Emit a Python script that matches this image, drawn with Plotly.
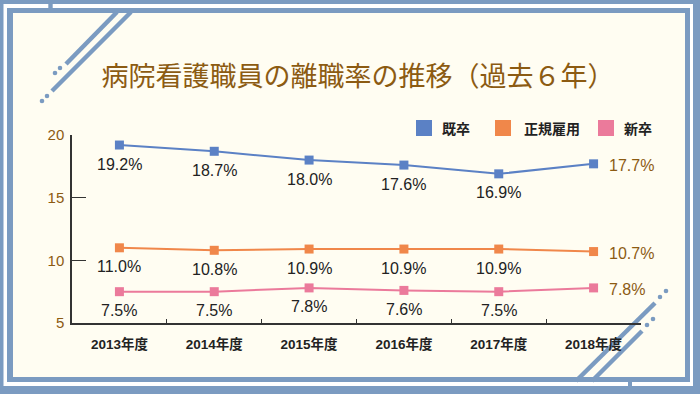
import plotly.graph_objects as go

# ---- data ----
years = ["2013年度", "2014年度", "2015年度", "2016年度", "2017年度", "2018年度"]
kisotsu = [19.2, 18.7, 18.0, 17.6, 16.9, 17.7]      # 既卒
seiki = [11.0, 10.8, 10.9, 10.9, 10.9, 10.7]        # 正規雇用
shinsotsu = [7.5, 7.5, 7.8, 7.6, 7.5, 7.8]          # 新卒
series_names = ["既卒", "正規雇用", "新卒"]
title_text = "病院看護職員の離職率の推移（過去６年）"

# ---- style ----
W, H = 700, 394
L, R, T, B = 72, 641, 135, 323  # plot area in pixels
BLUE_FRAME = "#7b9bc1"
CREAM = "#fffdf2"
GOLD = "#8c5b12"
COLORS = ["#5b81c5", "#f0874a", "#eb7a9b"]
TEXT_DARK = "#222222"
LABEL_FONT = "Liberation Sans, Arial, sans-serif"


def px(x):
    return (x - L) / (R - L)


def py(y):
    return (B - y) / (B - T)


fig = go.Figure()
annotations = []

n = len(years)
for name, vals, col in zip(series_names, [kisotsu, seiki, shinsotsu], COLORS):
    fig.add_trace(go.Scatter(
        x=years, y=vals, mode="lines+markers", name=name,
        line=dict(color=col, width=2),
        marker=dict(symbol="square", size=9, color=col),
        showlegend=False,
        hoverinfo="skip",
    ))
    for i, (xc, v) in enumerate(zip(years, vals)):
        last = i == n - 1
        annotations.append(dict(
            x=xc, y=v, xref="x", yref="y", text=f"{v:.1f}%", showarrow=False,
            xanchor="left" if last else "center", yanchor="middle",
            xshift=13 if last else 0, yshift=-2 if last else -19,
            font=dict(family=LABEL_FONT, size=16, color=GOLD if last else TEXT_DARK),
        ))

shapes = []


def rect(x0, y0, x1, y1, color):
    shapes.append(dict(type="rect", xref="paper", yref="paper",
                       x0=px(x0), x1=px(x1), y0=py(y1), y1=py(y0),
                       fillcolor=color, line=dict(width=0), layer="below"))


def seg(x0, y0, x1, y1):
    shapes.append(dict(type="line", xref="paper", yref="paper",
                       x0=px(x0), y0=py(y0), x1=px(x1), y1=py(y1),
                       line=dict(color=BLUE_FRAME, width=4.5), layer="below"))


def dot(cx, cy, r=2.3):
    shapes.append(dict(type="circle", xref="paper", yref="paper",
                       x0=px(cx - r), x1=px(cx + r), y0=py(cy + r), y1=py(cy - r),
                       fillcolor=BLUE_FRAME, line=dict(width=0), layer="below"))


# frame
rect(3.5, 4, 693, 386, "#ffffff")
rect(7, 8, 690, 382, BLUE_FRAME)
rect(13, 13, 685, 377, CREAM)
rect(48.3, 0, 52.7, 9, BLUE_FRAME)
rect(628, 381, 632, 394, BLUE_FRAME)

# decorative slashes top-left
seg(117, 12, 66, 64)
seg(131, 12, 52, 91)
dot(60, 68)
dot(55, 73)
dot(47, 96)
dot(42, 101)
# decorative slashes bottom-right
seg(576, 381, 655, 303)
seg(592, 381, 642, 331)
dot(660, 297)
dot(666, 291)
dot(647, 325)
dot(653, 319)

# legend (square swatches + bold labels)
legend_sq_x = [416, 495, 598]
legend_tx_x = [440, 522, 622]
for name, col, sx, tx in zip(series_names, COLORS, legend_sq_x, legend_tx_x):
    rect(sx, 120, sx + 16, 136, col)
    annotations.append(dict(
        x=px(tx), y=py(128), xref="paper", yref="paper", text=name, showarrow=False,
        xanchor="left", yanchor="middle",
        font=dict(family="Noto Sans CJK JP", size=14, color=TEXT_DARK, weight="bold"),
    ))

fig.update_layout(
    width=W, height=H,
    margin=dict(l=L, r=W - R, t=T, b=H - B, pad=0),
    paper_bgcolor=BLUE_FRAME,
    plot_bgcolor="rgba(0,0,0,0)",
    shapes=shapes,
    annotations=annotations,
    showlegend=False,
    title=dict(text=title_text, x=(350 + 8) / W, xref="container", xanchor="center",
               y=1 - 77 / H, yref="container", yanchor="middle",
               font=dict(family="Noto Sans CJK JP", size=27, color=GOLD)),
    xaxis=dict(type="category", range=[-0.5, n - 0.5],
               showline=True, linecolor="#333333", linewidth=1.5,
               ticks="inside", ticklen=4, tickcolor="#333333", tickson="boundaries",
               showgrid=False, zeroline=False,
               tickfont=dict(family="Liberation Sans, Noto Sans CJK JP", size=13.5,
                             color=TEXT_DARK, weight="bold"),
               ticklabelstandoff=8),
    yaxis=dict(range=[5, 20], tickvals=[5, 10, 15, 20],
               showline=True, linecolor="#333333", linewidth=1.5,
               ticks="inside", ticklen=14, tickcolor="#333333",
               showgrid=False, zeroline=False,
               tickfont=dict(family=LABEL_FONT, size=15, color=GOLD),
               ticklabelstandoff=3),
)

fig.write_html("out.html", config={"displayModeBar": False},
               post_script="document.body.style.margin='0';")
